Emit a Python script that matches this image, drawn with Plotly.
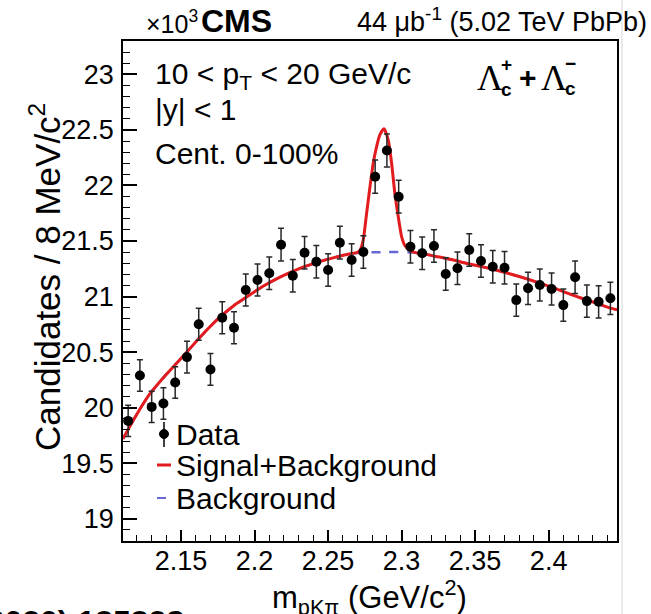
import plotly.graph_objects as go

# ---------------- data ----------------
mass_centers = [2.114, 2.122, 2.130, 2.138, 2.146, 2.154, 2.162, 2.170, 2.178, 2.186,
                2.194, 2.202, 2.210, 2.218, 2.226, 2.234, 2.242, 2.250, 2.258, 2.266,
                2.274, 2.282, 2.290, 2.298, 2.306, 2.314, 2.322, 2.330, 2.338, 2.346,
                2.354, 2.362, 2.370, 2.378, 2.386, 2.394, 2.402, 2.410, 2.418, 2.426,
                2.434, 2.442]
counts = [19881, 20290, 20007, 20038, 20227, 20455, 20750, 20344, 20809, 20719,
          21059, 21149, 21209, 21467, 21187, 21395, 21314, 21239, 21485, 21329,
          21401, 22079, 22314, 21899, 21449, 21389, 21455, 21203, 21254, 21419,
          21320, 21268, 21260, 20968, 21074, 21104, 21068, 20923, 21173, 20959,
          20953, 20984]
count_errors = [141, 142, 141, 142, 142, 143, 144, 143, 144, 144,
                145, 145, 146, 147, 146, 146, 146, 146, 147, 146,
                146, 149, 149, 148, 146, 146, 146, 146, 146, 146,
                146, 146, 146, 145, 145, 145, 145, 145, 146, 145,
                145, 145]

fit_mass = [2.1105, 2.119, 2.128, 2.140, 2.1525, 2.164, 2.176, 2.186, 2.195, 2.206,
            2.218, 2.230, 2.242, 2.254, 2.265, 2.2695, 2.2717, 2.2739, 2.2762, 2.2785,
            2.2807, 2.2830, 2.2852, 2.2880, 2.2909, 2.2932, 2.2954, 2.2977, 2.3000, 2.3022,
            2.3056, 2.3095, 2.316, 2.322, 2.333, 2.344, 2.356, 2.368, 2.380, 2.392,
            2.404, 2.416, 2.428, 2.440, 2.4465]
fit_values = [19720, 19920, 20110, 20300, 20480, 20650, 20810, 20920, 21000, 21095,
              21180, 21250, 21305, 21350, 21385, 21395, 21415, 21510, 21750, 21990,
              22200, 22350, 22455, 22510, 22410, 22200, 21930, 21720, 21540, 21460,
              21415, 21395, 21382, 21365, 21335, 21300, 21265, 21225, 21180, 21130,
              21075, 21015, 20960, 20905, 20880]

bkg_mass = [2.1105, 2.128, 2.1525, 2.176, 2.195, 2.218, 2.242, 2.265, 2.288, 2.3095,
            2.322, 2.344, 2.368, 2.392, 2.416, 2.440, 2.4465]
bkg_values = [19720, 20110, 20480, 20810, 21000, 21180, 21305, 21385, 21400, 21395,
              21365, 21300, 21225, 21130, 21015, 20905, 20880]

legend_labels = ["Data", "Signal+Background", "Background"]

x_tick_vals = [2.15, 2.2, 2.25, 2.3, 2.35, 2.4]
x_tick_text = ["2.15", "2.2", "2.25", "2.3", "2.35", "2.4"]
y_tick_vals = [19000, 19500, 20000, 20500, 21000, 21500, 22000, 22500, 23000]
y_tick_text = ["19", "19.5", "20", "20.5", "21", "21.5", "22", "22.5", "23"]

# ---------------- layout geometry ----------------
W, H = 651, 614
L, R, T, B = 123, 617, 41, 541

def px(xp):
    return (xp - L) / (R - L)

def py(yp):
    return (B - yp) / (B - T)

FONT = "Liberation Sans, Arial, Helvetica, sans-serif"
SERIF = "Liberation Serif, Times New Roman, serif"
RED = "rgb(226,28,30)"
BLUE = "rgb(104,104,214)"

fig = go.Figure()

fig.add_trace(go.Scatter(
    x=bkg_mass, y=bkg_values, mode="lines", name=legend_labels[2],
    line=dict(color=BLUE, width=2.5, dash="dash", shape="spline", smoothing=0.8)))

fig.add_trace(go.Scatter(
    x=fit_mass, y=fit_values, mode="lines", name=legend_labels[1],
    line=dict(color=RED, width=3, shape="spline", smoothing=0.6)))

fig.add_trace(go.Scatter(
    x=mass_centers, y=counts, mode="markers", name=legend_labels[0],
    marker=dict(color="black", size=10),
    error_y=dict(type="data", array=count_errors, visible=True,
                 color="rgb(40,40,40)", thickness=1.5, width=3)))

txt = dict(family=FONT, color="black")
annotations = [
    dict(text="×10<sup>3</sup>", x=px(144), y=py(22), xanchor="left", yanchor="middle",
         font=dict(size=25, **txt)),
    dict(text="<b>CMS</b>", x=px(199), y=py(21), xanchor="left", yanchor="middle",
         font=dict(size=32, **txt)),
    dict(text="44 μb<sup>-1</sup> (5.02 TeV PbPb)", x=px(649), y=py(20), xanchor="right",
         yanchor="middle", font=dict(size=27, **txt)),
    dict(text="10 < p<sub>T</sub> < 20 GeV/c", x=px(153), y=py(76), xanchor="left",
         yanchor="middle", font=dict(size=30, **txt)),
    dict(text="|y| < 1", x=px(153), y=py(109), xanchor="left", yanchor="middle",
         font=dict(size=30, **txt)),
    dict(text="Cent. 0-100%", x=px(153), y=py(153), xanchor="left", yanchor="middle",
         font=dict(size=30, **txt)),
    # Lambda_c^+ + Lambda_c^-
    dict(text="Λ", x=px(476), y=py(78), xanchor="left", yanchor="middle",
         font=dict(size=36, family=SERIF, color="black"), borderpad=0),
    dict(text="<b>+</b><br><b>c</b>", x=px(500), y=py(77), xanchor="left", yanchor="middle",
         align="left", font=dict(size=19, **txt), borderpad=0),
    dict(text="<b>+</b>", x=px(518), y=py(78), xanchor="left", yanchor="middle",
         font=dict(size=30, **txt), borderpad=0),
    dict(text="Λ", x=px(540), y=py(78), xanchor="left", yanchor="middle",
         font=dict(size=36, family=SERIF, color="black"), borderpad=0),
    dict(text="<b>−</b><br><b>c</b>", x=px(564), y=py(76), xanchor="left", yanchor="middle",
         align="left", font=dict(size=19, **txt), borderpad=0),
    # axis titles
    dict(text="Candidates / 8 MeV/c<sup>2</sup>", x=px(45), y=py(277), xanchor="center",
         yanchor="middle", textangle=-90, font=dict(size=35, **txt)),
    dict(text="m<sub>pKπ</sub> (GeV/c<sup>2</sup>)", x=px(369), y=py(597), xanchor="center",
         yanchor="middle", font=dict(size=31, **txt)),
    # legend texts
    dict(text=legend_labels[0], x=px(174), y=py(434), xanchor="left", yanchor="middle",
         font=dict(size=30, **txt)),
    dict(text=legend_labels[1], x=px(174), y=py(465), xanchor="left", yanchor="middle",
         font=dict(size=30, **txt)),
    dict(text=legend_labels[2], x=px(174), y=py(498), xanchor="left", yanchor="middle",
         font=dict(size=30, **txt)),
    # cropped citation text at the bottom-left edge
    dict(text="<b>(2020) 135328</b>", x=px(186), y=py(622), xanchor="right", yanchor="middle",
         font=dict(size=32, **txt)),
]
for a in annotations:
    a.update(xref="paper", yref="paper", showarrow=False)

shapes = [
    # screenshot border line on the right
    dict(type="line", x0=px(622), x1=px(622), y0=py(H), y1=py(0),
         line=dict(color="rgb(215,215,215)", width=1)),
    # legend symbols
    dict(type="line", x0=px(164), x1=px(164), y0=py(422), y1=py(447),
         line=dict(color="black", width=1.5)),
    dict(type="circle", x0=px(159.5), x1=px(168.5), y0=py(438.5), y1=py(429.5),
         fillcolor="black", line=dict(color="black", width=1)),
    dict(type="line", x0=px(157), x1=px(171), y0=py(465), y1=py(465),
         line=dict(color=RED, width=3)),
    dict(type="line", x0=px(157), x1=px(171), y0=py(498), y1=py(498),
         line=dict(color=BLUE, width=2, dash="dash")),
]
for s in shapes:
    s.update(xref="paper", yref="paper")

fig.update_layout(
    width=W, height=H, autosize=False,
    margin=dict(l=L, r=W - R, t=T, b=H - B, pad=0),
    paper_bgcolor="white", plot_bgcolor="white",
    font=dict(family=FONT, color="black", size=26),
    showlegend=False,
    annotations=annotations,
    shapes=shapes,
)

fig.update_xaxes(
    range=[2.1105, 2.4465], tickmode="array", tickvals=x_tick_vals, ticktext=x_tick_text,
    ticks="inside", ticklen=11, tickwidth=1.5, tickcolor="black",
    showline=True, linecolor="black", linewidth=1.5, mirror=True,
    showgrid=False, zeroline=False,
    tickfont=dict(size=27, family=FONT, color="black"), ticklabelstandoff=-5,
    minor=dict(ticks="inside", ticklen=6, tickwidth=1.2, tickcolor="black",
               dtick=0.01, tick0=2.15, showgrid=False),
)
fig.update_yaxes(
    range=[18800, 23300], tickmode="array", tickvals=y_tick_vals, ticktext=y_tick_text,
    ticks="inside", ticklen=14, tickwidth=1.5, tickcolor="black",
    showline=True, linecolor="black", linewidth=1.5, mirror=True,
    showgrid=False, zeroline=False,
    tickfont=dict(size=27, family=FONT, color="black"), ticklabelstandoff=2,
    minor=dict(ticks="inside", ticklen=7, tickwidth=1.2, tickcolor="black",
               dtick=100, tick0=19000, showgrid=False),
)

fig.write_html("out.html")
